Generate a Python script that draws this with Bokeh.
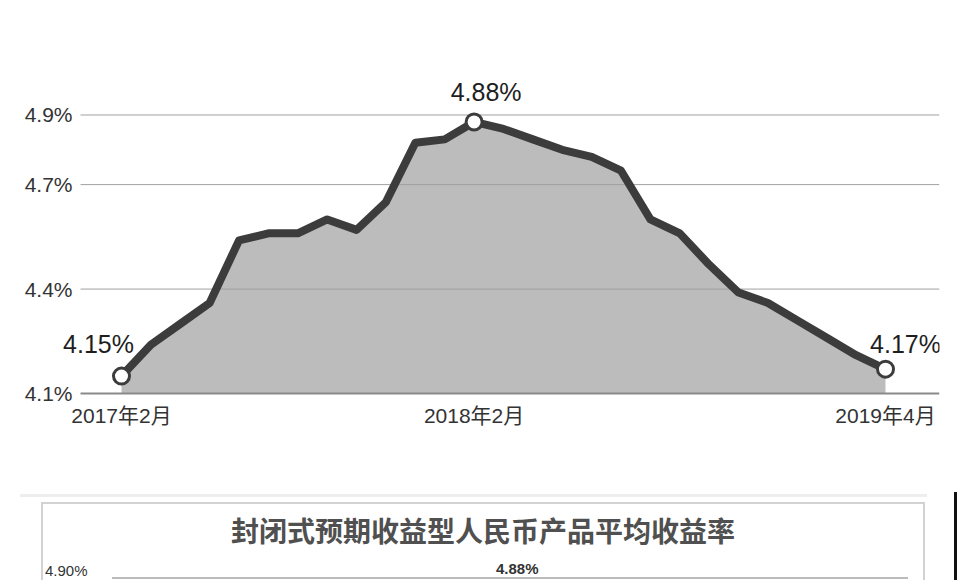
# Closed-end expected-return RMB products: average yield, Feb 2017 - Apr 2019
# Area chart (top) plus the cropped header of the next chart (bottom, as a Div).

from bokeh.plotting import figure
from bokeh.layouts import column
from bokeh.models import Range1d, FixedTicker, Label, Div
from bokeh.embed import file_html
from bokeh.resources import INLINE

# data
months = [
    "2017年2月", "2017年3月", "2017年4月", "2017年5月", "2017年6月", "2017年7月",
    "2017年8月", "2017年9月", "2017年10月", "2017年11月", "2017年12月", "2018年1月",
    "2018年2月", "2018年3月", "2018年4月", "2018年5月", "2018年6月", "2018年7月",
    "2018年8月", "2018年9月", "2018年10月", "2018年11月", "2018年12月", "2019年1月",
    "2019年2月", "2019年3月", "2019年4月",
]
yields = [
    4.15, 4.24, 4.30, 4.36, 4.54, 4.56, 4.56, 4.60, 4.57, 4.65, 4.82, 4.83,
    4.88, 4.86, 4.83, 4.80, 4.78, 4.74, 4.60, 4.56, 4.47, 4.39, 4.36, 4.31,
    4.26, 4.21, 4.17,
]
y_ticks = [4.1, 4.4, 4.7, 4.9]
y_tick_labels = ["4.1%", "4.4%", "4.7%", "4.9%"]
x_tick_months = ["2017年2月", "2018年2月", "2019年4月"]
marked = [0, 12, 26]   # points with a circle and a value label
title2 = "封闭式预期收益型人民币产品平均收益率"
title2_ticks = ["4.90%", "4.88%"]

FONT = "Liberation Sans, Noto Sans CJK SC"
x = list(range(len(months)))

# frame is a bit wider on the left than the grid so the first value label fits
X0, X1 = -2.076, 27.838      # frame
GRID_X0 = -1.395             # where the gridlines start
Y0, Y1 = 4.0914, 5.091

p = figure(width=952, height=472, output_backend="svg", toolbar_location=None,
           x_range=Range1d(X0, X1), y_range=Range1d(Y0, Y1),
           min_border_left=60, min_border_right=13, min_border_top=48,
           min_border_bottom=76)
p.outline_line_color = None
p.background_fill_color = "white"

# area
p.varea(x=x, y1=y_ticks[0], y2=yields, fill_color="#bcbcbc")

# gridlines (over the fill, as in the original) and the base line
p.segment(x0=GRID_X0, x1=X1, y0=y_ticks[1:], y1=y_ticks[1:],
          line_color="#a0a0a0", line_width=1)
p.segment(x0=GRID_X0, x1=X1, y0=y_ticks[0], y1=y_ticks[0],
          line_color="#8a8a8a", line_width=2)

# line + marked points
p.line(x, yields, line_color="#3c3c3c", line_width=8, line_join="round")
mx = [x[i] for i in marked]
my = [yields[i] for i in marked]
p.scatter(mx, my, size=16, fill_color="white", line_color="#3c3c3c", line_width=3)

# value labels
offs_x = [-23, 12, 20]
offs_y = [32, 30, 25]
for xi, yi, ox, oy in zip(mx, my, offs_x, offs_y):
    p.add_layout(Label(x=xi, y=yi, text="%.2f%%" % yi, x_offset=ox, y_offset=oy,
                       text_align="center", text_baseline="alphabetic",
                       text_font="Liberation Sans", text_font_size="25px",
                       text_color="#1e1e1e", level="overlay"))

# axes
p.yaxis.ticker = FixedTicker(ticks=y_ticks)
p.yaxis.major_label_overrides = dict(zip(y_ticks, y_tick_labels))
p.xaxis.ticker = FixedTicker(ticks=marked)
p.xaxis.major_label_overrides = {i: m for i, m in zip(marked, x_tick_months)}
for ax in (p.xaxis, p.yaxis):
    ax.major_tick_out = 0
    ax.major_tick_in = 0
    ax.minor_tick_out = 0
    ax.minor_tick_in = 0
    ax.axis_line_color = None
    ax.major_label_text_font = FONT
    ax.major_label_text_font_size = "21px"
    ax.major_label_text_color = "#333333"
p.yaxis.major_label_standoff = -12
p.xaxis.major_label_standoff = 7
p.grid.grid_line_color = None

# cropped top of the next chart in the page
html = f"""
<div style="position:relative;width:960px;height:108px;overflow:hidden;background:white">
  <div style="position:absolute;left:20px;top:22px;width:907px;height:0;border-top:3px solid #eeeeee"></div>
  <div style="position:absolute;left:41px;top:30px;width:884px;height:120px;box-sizing:border-box;border:2px solid #d2d2d2"></div>
  <div style="position:absolute;left:41px;top:38px;width:884px;text-align:center;
              font-family:'Noto Sans CJK SC';font-weight:bold;font-size:28px;line-height:40px;color:#505050">{title2}</div>
  <div style="position:absolute;left:45px;top:91px;font-family:'Liberation Sans';font-size:15px;line-height:16px;color:#333">{title2_ticks[0]}</div>
  <div style="position:absolute;left:496px;top:89px;font-family:'Liberation Sans';font-weight:bold;font-size:15px;line-height:16px;color:#333">{title2_ticks[1]}</div>
  <div style="position:absolute;left:112px;top:105px;width:796px;height:0;border-top:2px solid #bbbbbb"></div>
  <div style="position:absolute;left:954px;top:20px;width:3px;height:100px;background:#111"></div>
</div>
"""
q = Div(text=html, width=960, height=108, margin=(0, 0, 0, 0))

layout = column(p, q, spacing=0)
open("out.html", "w").write(file_html(layout, INLINE))
